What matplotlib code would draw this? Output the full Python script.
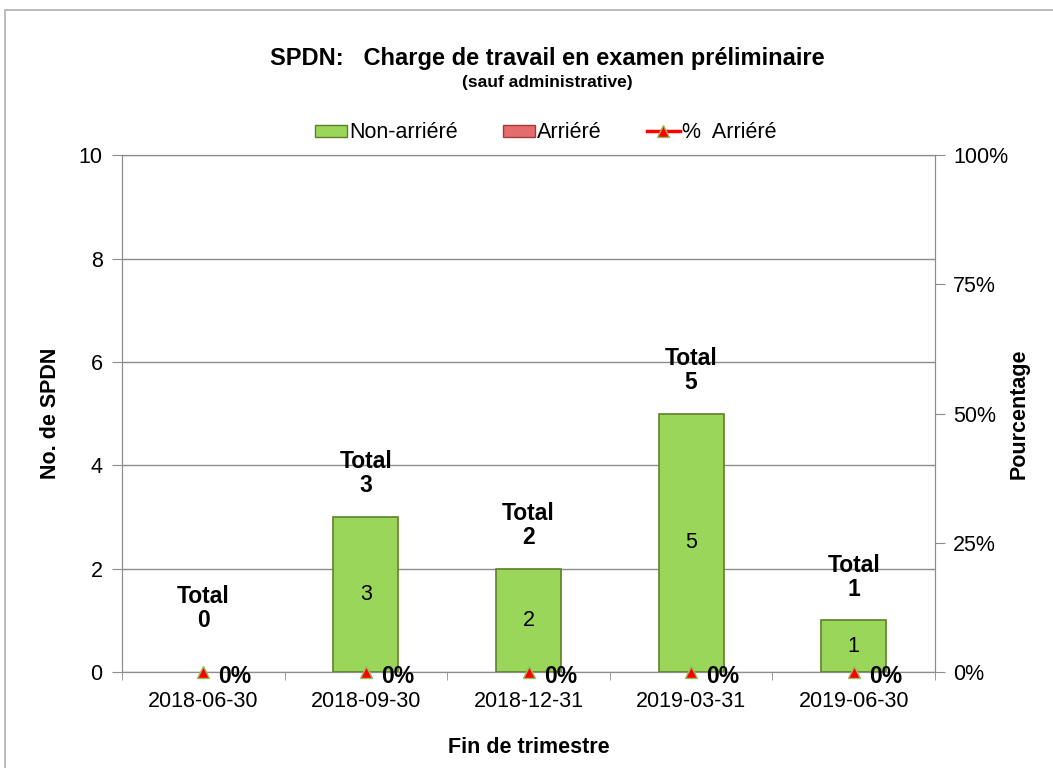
import numpy as np
import matplotlib.pyplot as plt
from matplotlib.patches import Patch
from matplotlib.lines import Line2D

plt.rcParams['font.family'] = ['Liberation Sans', 'DejaVu Sans']

quarters = ["2018-06-30", "2018-09-30", "2018-12-31", "2019-03-31", "2019-06-30"]
non_arriere = [0, 3, 2, 5, 1]
arriere = [0, 0, 0, 0, 0]
pct_arriere = [0, 0, 0, 0, 0]

green = "#9ad65a"
green_edge = "#5f7f2a"
red = "#e46c6c"
red_edge = "#a33a3a"
grey = "#8c8c8c"


def main():
    fig = plt.figure(figsize=(10.53, 7.68), dpi=100)
    # outer frame like the exported chart area
    fig.patches.append(plt.Rectangle((0.005, -0.01), 1.2, 0.997, transform=fig.transFigure,
                                     fill=False, edgecolor="#b0b0b0", linewidth=1.2))
    ax = fig.add_axes([0.1159, 0.125, 0.772, 0.673])
    x = np.arange(len(quarters))
    totals = [a + b for a, b in zip(non_arriere, arriere)]

    # zero-height bars are not drawn at all (no edge line)
    lw_na = [1.2 if v > 0 else 0 for v in non_arriere]
    lw_a = [1.2 if v > 0 else 0 for v in arriere]
    ax.bar(x, non_arriere, width=0.4, color=green, edgecolor=green_edge, linewidth=lw_na, zorder=3)
    ax.bar(x, arriere, width=0.4, bottom=non_arriere, color=red, edgecolor=red_edge,
           linewidth=lw_a, zorder=3)

    for xi, v, t in zip(x, non_arriere, totals):
        if v > 0:
            ax.text(xi, v / 2, str(v), ha="center", va="center", fontsize=15.5, zorder=5)
        ax.text(xi, max(t, 0.4) + 0.38, f"Total\n{t}", ha="center", va="bottom",
                fontsize=16.5, fontweight="bold", linespacing=1.05, zorder=5)

    ax.set_ylim(0, 10)
    ax.set_xlim(-0.5, len(quarters) - 0.5)
    ax.set_yticks(range(0, 11, 2))
    ax.set_xticks(x)
    ax.set_xticklabels(quarters)
    ax.set_xticks(np.arange(-0.5, len(quarters)), minor=True)
    ax.tick_params(axis="x", which="major", length=0, labelsize=15.5, pad=14)
    ax.tick_params(axis="x", which="minor", length=6, color=grey)
    ax.tick_params(axis="y", labelsize=15.5, color=grey, length=7, pad=7)
    ax.grid(axis="y", color=grey, linewidth=1, zorder=0)
    for s in ax.spines.values():
        s.set_color(grey)
    ax.set_ylabel("No. de SPDN", fontsize=15.5, fontweight="bold", labelpad=13)
    ax.set_xlabel("Fin de trimestre", fontsize=15.5, fontweight="bold", labelpad=18)

    ax2 = ax.twinx()
    ax2.set_ylim(0, 1)
    ax2.set_yticks([0, 0.25, 0.5, 0.75, 1.0])
    ax2.set_yticklabels(["0%", "25%", "50%", "75%", "100%"])
    ax2.tick_params(axis="y", labelsize=15.5, color=grey, length=7, pad=6)
    for s in ax2.spines.values():
        s.set_color(grey)
    ax2.set_ylabel("Pourcentage", fontsize=15.5, fontweight="bold", labelpad=0)
    ax2.plot(x, pct_arriere, linestyle="none", marker="^", markersize=9,
             markerfacecolor="#ff0000", markeredgecolor="#9bbb59", clip_on=False, zorder=6)
    for xi, p in zip(x, pct_arriere):
        ax2.annotate(f"{p:.0%}", (xi, p), xytext=(11, -3), textcoords="offset points",
                     ha="left", va="center", fontsize=16.5, fontweight="bold",
                     annotation_clip=False)

    fig.text(0.5195, 0.924, "SPDN:   Charge de travail en examen préliminaire", ha="center",
             va="center", fontsize=17, fontweight="bold")
    fig.text(0.5195, 0.893, "(sauf administrative)", ha="center", va="center",
             fontsize=12.5, fontweight="bold")

    handles = [
        Patch(facecolor=green, edgecolor=green_edge),
        Patch(facecolor=red, edgecolor=red_edge),
        Line2D([0], [0], color="red", linewidth=2.5, marker="^", markersize=9,
               markerfacecolor="#ff0000", markeredgecolor="#9bbb59"),
    ]
    fig.legend(handles, ["Non-arriéré", "Arriéré", "%  Arriéré"], loc="center",
               bbox_to_anchor=(0.518, 0.827), ncol=3, frameon=False, fontsize=15.5,
               handlelength=1.5, handletextpad=0.1, columnspacing=2.1, handleheight=0.5)

    fig.savefig("out.png", dpi=100)


if __name__ == "__main__":
    main()
